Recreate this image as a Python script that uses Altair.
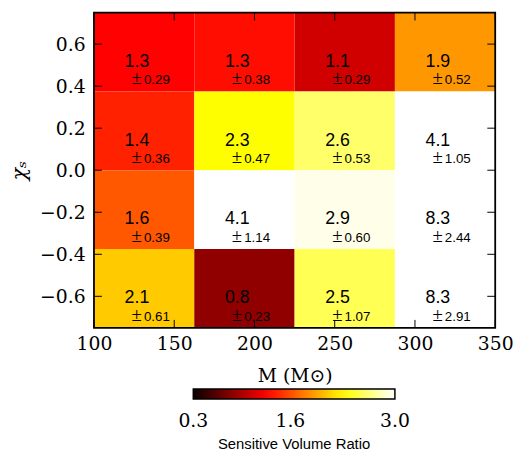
import altair as alt
import pandas as pd

# bin edges
m_edges = [100, 162.5, 225, 287.5, 350]
chi_edges = [0.75, 0.375, 0.0, -0.375, -0.75]  # rows from top to bottom

# sensitive volume ratio, rows top -> bottom, columns left -> right
ratio_rows = [
    [1.29, 1.34, 1.10, 1.90],
    [1.42, 2.31, 2.60, 4.10],
    [1.64, 4.10, 2.94, 8.30],
    [2.10, 0.84, 2.54, 8.30],
]
err_rows = [
    [0.29, 0.38, 0.29, 0.52],
    [0.36, 0.47, 0.53, 1.05],
    [0.39, 1.14, 0.60, 2.44],
    [0.61, 0.23, 1.07, 2.91],
]

x_ticks = [100, 150, 200, 250, 300, 350]
y_ticks = [-0.6, -0.4, -0.2, 0.0, 0.2, 0.4, 0.6]
# colorbar tick labels (ends nudged inside so the labels centre on the bar ends)
cbar_ticks = [0.3001, 1.6, 2.9999]

# matplotlib "hot" colormap stops for vmin=0.3, vmax=3.0
vmin, vmax = 0.3, 3.0
hot_pos = [0.0, 0.365079, 0.746032, 1.0]
hot_cols = ["#0b0000", "#ff0000", "#ffff00", "#ffffff"]

rows = []
for i in range(4):
    for j in range(4):
        rows.append({
            "m0": m_edges[j], "m1": m_edges[j + 1],
            "c1": chi_edges[i], "c0": chi_edges[i + 1],
            "cmid": (chi_edges[i] + chi_edges[i + 1]) / 2,
            "ratio": ratio_rows[i][j], "err": err_rows[i][j],
        })
df = pd.DataFrame(rows)

xscale = alt.Scale(domain=[100, 350], nice=False, zero=False)
yscale = alt.Scale(domain=[-0.75, 0.75], nice=False, zero=False)

serif = "DejaVu Serif"
xaxis = alt.Axis(values=x_ticks, format="d", ticks=False, domain=False, grid=False,
                 labelFont=serif, labelFontSize=19, labelColor="black", labelFlush=False,
                 labelPadding=7, title="M (M\u2299)", titleFont=serif, titleFontSize=19,
                 titleFontWeight="normal", titleColor="black", titlePadding=13)
yaxis = alt.Axis(values=y_ticks, format=".1f", ticks=False, domain=False, grid=False,
                 labelFont=serif, labelFontSize=19, labelColor="black", labelFlush=False,
                 labelPadding=9, title="\u03c7\u209b", titleFont=serif, titleFontSize=21,
                 titleFontWeight="normal", titleFontStyle="italic", titleColor="black",
                 titlePadding=10)

def X(field):
    return alt.X(field, type="quantitative", scale=xscale, axis=xaxis)

def Y(field):
    return alt.Y(field, type="quantitative", scale=yscale, axis=yaxis)

color_scale = alt.Scale(domain=[vmin + p * (vmax - vmin) for p in hot_pos],
                        range=hot_cols, clamp=True, interpolate="rgb")

base = alt.Chart(df)

cells = base.mark_rect().encode(
    x=X("m0"), x2="m1", y=Y("c0"), y2="c1",
    color=alt.Color("ratio:Q", scale=color_scale,
                    legend=alt.Legend(type="gradient", orient="none", legendX=100.5, legendY=381,
                                      direction="horizontal", gradientLength=204,
                                      gradientThickness=10, gradientStrokeColor="black",
                                      gradientStrokeWidth=1.5, values=cbar_ticks,
                                      format=".1f", labelFont=serif, labelFontSize=19,
                                      labelColor="black", labelOverlap=False,
                                      labelOffset=13, title="Sensitive Volume Ratio",
                                      titleOrient="bottom", titleAnchor="middle",
                                      titleFont="Liberation Sans", titleFontSize=15,
                                      titleFontWeight="normal", titleColor="black",
                                      titlePadding=7, padding=0)),
)

vals = base.mark_text(align="left", baseline="alphabetic", dx=31, dy=15,
                      font="Liberation Sans", fontSize=18, color="black").encode(
    x=X("m0"), y=Y("cmid"), text=alt.Text("ratio:Q", format=".1f"))

pm = base.mark_text(align="left", baseline="alphabetic", dx=38, dy=32.5, text="\u00b1",
                    font="Liberation Serif", fontSize=19, color="black").encode(
    x=X("m0"), y=Y("cmid"))

errs = base.mark_text(align="left", baseline="alphabetic", dx=50.5, dy=32.5,
                      font="Liberation Sans", fontSize=13.5, color="black").encode(
    x=X("m0"), y=Y("cmid"), text=alt.Text("err:Q", format=".2f"))

xt = pd.DataFrame({"v": x_ticks})
yt = pd.DataFrame({"v": y_ticks})
tick_top = alt.Chart(xt).mark_rule(color="black", strokeWidth=1).encode(
    x=X("v"), y=alt.value(0), y2=alt.value(8))
tick_bot = alt.Chart(xt).mark_rule(color="black", strokeWidth=1).encode(
    x=X("v"), y=alt.value(319), y2=alt.value(311))
tick_left = alt.Chart(yt).mark_rule(color="black", strokeWidth=1).encode(
    y=Y("v"), x=alt.value(0), x2=alt.value(8))
tick_right = alt.Chart(yt).mark_rule(color="black", strokeWidth=1).encode(
    y=Y("v"), x=alt.value(406), x2=alt.value(398))

frame_df = pd.DataFrame({"x0": [m_edges[0]], "x1": [m_edges[-1]],
                         "y0": [chi_edges[-1]], "y1": [chi_edges[0]]})
frame = alt.Chart(frame_df).mark_rect(fillOpacity=0, stroke="black", strokeWidth=1.8).encode(
    x=X("x0"), x2="x1", y=Y("y0"), y2="y1")

chart = alt.layer(cells, vals, pm, errs, tick_top, tick_bot, tick_left, tick_right, frame).properties(
    width=406, height=319,
    autosize=alt.AutoSizeParams(type="none"),
    padding={"left": 87, "top": 2, "right": 18, "bottom": 124},
).configure_view(strokeWidth=0)

chart.save("out.html", embed_options={"renderer": "svg", "actions": False})
